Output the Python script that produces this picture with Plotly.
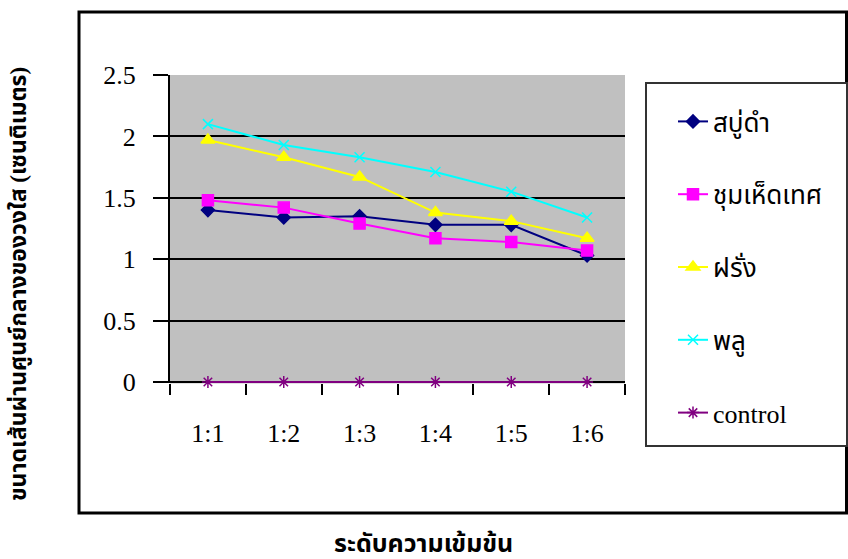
import plotly.graph_objects as go

# Concentration levels (x categories)
categories = ["1:1", "1:2", "1:3", "1:4", "1:5", "1:6"]

# Clear-zone diameter (cm) for each extract
sabu_dam = [1.40, 1.34, 1.35, 1.28, 1.28, 1.03]
chum_het_thet = [1.48, 1.42, 1.29, 1.17, 1.14, 1.07]
farang = [1.97, 1.83, 1.67, 1.38, 1.31, 1.17]
phlu = [2.10, 1.93, 1.83, 1.71, 1.55, 1.34]
control = [0, 0, 0, 0, 0, 0]

series_names = ["สบู่ดำ", "ชุมเห็ดเทศ", "ฝรั่ง", "พลู", "control"]

y_tick_vals = [0, 0.5, 1, 1.5, 2, 2.5]
y_tick_text = ["0", "0.5", "1", "1.5", "2", "2.5"]

W, H = 848, 559
SERIF = "Liberation Serif, Times New Roman, serif"
THAI = "Liberation Serif, Noto Sans Thai, Noto Serif Thai, Tahoma, sans-serif"

# small pad below zero so the control line at 0 is not clipped
Y_MIN, Y_MAX = -0.012, 2.5
PX_TOP, PX_ZERO = 75, 382
PX_PER_UNIT = (PX_ZERO - PX_TOP) / Y_MAX
PX_BOTTOM = PX_ZERO - Y_MIN * PX_PER_UNIT


def px_x(p):
    return p / W


def px_y(p):
    return 1 - p / H


styles = [
    (sabu_dam, "#000080", "diamond", 10),
    (chum_het_thet, "#FF00FF", "square", 11),
    (farang, "#FFFF00", "triangle-up", 12),
    (phlu, "#00FFFF", "x-thin-open", 10),
    (control, "#800080", "asterisk-open", 10),
]

fig = go.Figure()
for i, (vals, color, symbol, size) in enumerate(styles):
    fig.add_trace(go.Scatter(
        x=categories, y=vals, name=series_names[i],
        mode="lines+markers",
        line=dict(color=color, width=2),
        marker=dict(symbol=symbol, size=size, color=color,
                    line=dict(color=color, width=1.5)),
        legendgroup=f"g{i}",
        cliponaxis=False,
    ))

fig.update_layout(
    width=W, height=H,
    margin=dict(l=0, r=0, t=0, b=0, autoexpand=False),
    paper_bgcolor="white",
    plot_bgcolor="#C0C0C0",
    showlegend=True,
    legend=dict(
        x=px_x(673), xanchor="left",
        y=px_y(98), yanchor="top",
        bgcolor="rgba(0,0,0,0)", borderwidth=0,
        font=dict(family=THAI, size=26, color="black"),
        tracegroupgap=36,
    ),
    xaxis=dict(
        domain=[px_x(170), px_x(625)],
        type="category", range=[-0.5, 5.5],
        tickson="boundaries", ticks="outside", ticklen=11,
        tickwidth=2, tickcolor="black",
        showline=False,
        showgrid=False, zeroline=False,
        tickfont=dict(family=SERIF, size=26, color="black"),
        ticklabelstandoff=32,
        automargin=False,
    ),
    yaxis=dict(
        domain=[px_y(PX_BOTTOM), px_y(PX_TOP)],
        range=[Y_MIN, Y_MAX],
        tickvals=y_tick_vals, ticktext=y_tick_text,
        ticks="outside", ticklen=15, tickwidth=2, tickcolor="black",
        showline=True, linecolor="black", linewidth=2,
        showgrid=True, gridcolor="black", gridwidth=2,
        zeroline=False,
        layer="below traces",
        tickfont=dict(family=SERIF, size=26, color="black"),
        ticklabelstandoff=12,
        automargin=False,
    ),
    shapes=[
        # outer chart frame
        dict(type="rect", xref="paper", yref="paper",
             x0=px_x(79), x1=px_x(846.5), y0=px_y(513), y1=px_y(12),
             line=dict(color="black", width=3), layer="below"),
        # legend frame
        dict(type="rect", xref="paper", yref="paper",
             x0=px_x(646), x1=px_x(847), y0=px_y(446), y1=px_y(83),
             line=dict(color="#333333", width=2), fillcolor="white",
             layer="below"),
    ],
    annotations=[
        dict(text="<b>ขนาดเส้นผ่านศูนย์กลางของวงใส (เซนติเมตร)</b>",
             xref="paper", yref="paper", x=px_x(19), y=px_y(284),
             xanchor="center", yanchor="middle",
             textangle=-90, showarrow=False,
             font=dict(family=THAI, size=23, color="black")),
        dict(text="<b>ระดับความเข้มข้น</b>",
             xref="paper", yref="paper", x=px_x(423), y=px_y(543),
             xanchor="center", yanchor="middle",
             showarrow=False,
             font=dict(family=THAI, size=25, color="black")),
    ],
)

fig.write_html("out.html")
